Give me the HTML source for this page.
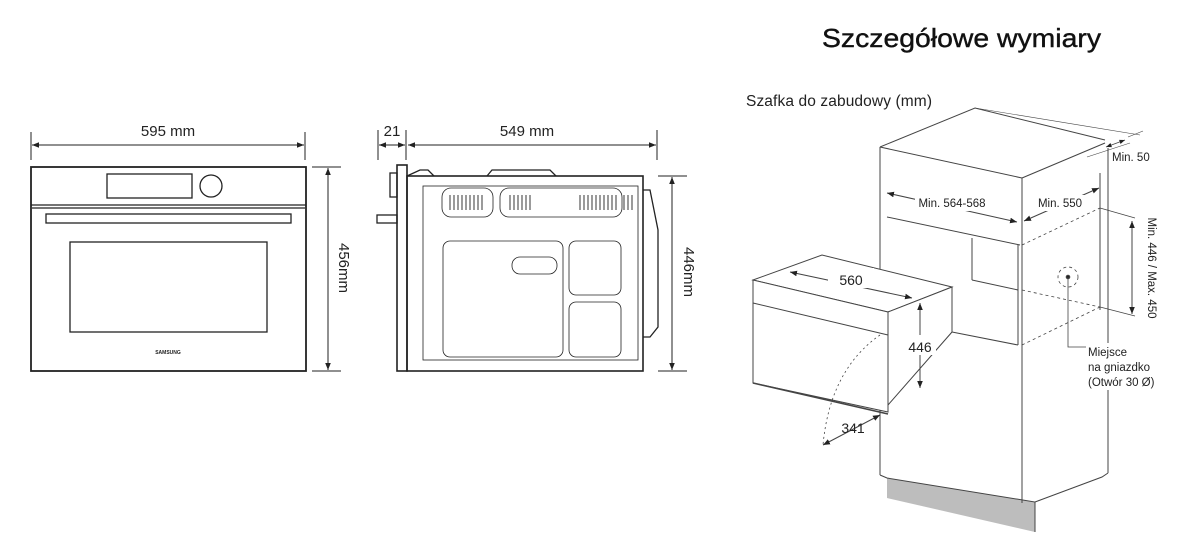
<!DOCTYPE html>
<html><head><meta charset="utf-8"><style>
html,body{margin:0;padding:0;background:#fff;}
svg{display:block;font-family:"Liberation Sans",sans-serif;}
</style></head><body>
<svg width="1190" height="556" viewBox="0 0 1190 556" xmlns="http://www.w3.org/2000/svg">
<defs>
<marker id="a" viewBox="0 0 10 10" refX="10" refY="5" markerWidth="7" markerHeight="7" orient="auto-start-reverse"><path d="M0,1 L10,5 L0,9 z" fill="#222"/></marker>
</defs>
<text x="822" y="47" font-size="26" fill="#111" stroke="#111" stroke-width="0.4" textLength="279" lengthAdjust="spacingAndGlyphs">Szczegółowe wymiary</text>
<text x="746" y="106" font-size="15.5" fill="#222" textLength="186">Szafka do zabudowy (mm)</text>

<!-- FRONT VIEW -->
<g stroke="#222" fill="none" stroke-width="1.3">
<rect x="31" y="167" width="275" height="204" stroke-width="1.8"/>
<line x1="31" y1="205" x2="306" y2="205"/>
<line x1="32" y1="208" x2="305" y2="208"/>
<rect x="107" y="174" width="85" height="24"/>
<circle cx="211" cy="186" r="11"/>
<rect x="46" y="214" width="245" height="9"/>
<rect x="70" y="242" width="197" height="90"/>
<line x1="31" y1="132" x2="31" y2="160" stroke-width="1"/>
<line x1="305" y1="132" x2="305" y2="160" stroke-width="1"/>
<line x1="32" y1="145" x2="304" y2="145" stroke-width="1" marker-start="url(#a)" marker-end="url(#a)"/>
<line x1="312" y1="167" x2="341" y2="167" stroke-width="1"/>
<line x1="312" y1="371" x2="341" y2="371" stroke-width="1"/>
<line x1="328" y1="168" x2="328" y2="370" stroke-width="1" marker-start="url(#a)" marker-end="url(#a)"/>
</g>
<text x="168" y="136" font-size="15" text-anchor="middle" fill="#222">595 mm</text>
<text x="168" y="354" font-size="5" text-anchor="middle" fill="#222" font-weight="bold">SAMSUNG</text>
<text transform="translate(339,268) rotate(90)" font-size="15" text-anchor="middle" fill="#222">456mm</text>

<!-- SIDE VIEW -->
<g stroke="#222" fill="none" stroke-width="1.3">
<rect x="407" y="176" width="236" height="195" stroke-width="1.6"/>
<rect x="423" y="186" width="215" height="174" stroke-width="0.8"/>
<rect x="397" y="165" width="10" height="206" stroke-width="1.6"/>
<rect x="390" y="173" width="7" height="24"/>
<rect x="377" y="215" width="20" height="8"/>
<path d="M407,176 L420,170 L428,170 L434,176"/>
<path d="M487,176 L492,170 L550,170 L556,176"/>
<path d="M643,190 L650,190 L658,230 L658,327 L650,337 L643,337"/>
<rect x="442" y="188" width="51" height="29" rx="9" stroke-width="0.8"/>
<rect x="500" y="188" width="122" height="29" rx="9" stroke-width="0.8"/>
<rect x="443" y="241" width="120" height="116" rx="7" stroke-width="0.8"/>
<rect x="512" y="257" width="45" height="17" rx="8" stroke-width="0.8"/>
<rect x="569" y="241" width="52" height="54" rx="7" stroke-width="0.8"/>
<rect x="569" y="302" width="52" height="55" rx="7" stroke-width="0.8"/>
<line x1="378" y1="130" x2="378" y2="160" stroke-width="1"/>
<line x1="406" y1="130" x2="406" y2="160" stroke-width="1"/>
<line x1="657" y1="130" x2="657" y2="160" stroke-width="1"/>
<line x1="379" y1="145" x2="405" y2="145" stroke-width="1" marker-start="url(#a)" marker-end="url(#a)"/>
<line x1="408" y1="145" x2="656" y2="145" stroke-width="1" marker-start="url(#a)" marker-end="url(#a)"/>
<line x1="658" y1="176" x2="687" y2="176" stroke-width="1"/>
<line x1="658" y1="371" x2="687" y2="371" stroke-width="1"/>
<line x1="672" y1="177" x2="672" y2="370" stroke-width="1" marker-start="url(#a)" marker-end="url(#a)"/>
</g>
<g stroke="#222" stroke-width="0.9">
<path d="M450,195v15M454,195v15M458,195v15M462,195v15M466,195v15M470,195v15M474,195v15M478,195v15M482,195v15"/>
<path d="M510,195v15M514,195v15M518,195v15M522,195v15M526,195v15M530,195v15"/>
<path d="M580,195v15M584,195v15M588,195v15M592,195v15M596,195v15M600,195v15M604,195v15M608,195v15M612,195v15M616,195v15M624,195v15M628,195v15M632,195v15"/>
</g>
<text x="392" y="136" font-size="15" text-anchor="middle" fill="#222">21</text>
<text x="527" y="136" font-size="15" text-anchor="middle" fill="#222">549 mm</text>
<text transform="translate(684,272) rotate(90)" font-size="15" text-anchor="middle" fill="#222">446mm</text>

<!-- CABINET -->
<polygon points="887,478 1035,502 1035,532 887,498" fill="#bdbdbd"/>
<g stroke="#444" fill="none" stroke-width="1">
<polyline points="880,147 975,108 1105,140"/>
<line x1="880" y1="147" x2="1022" y2="178"/>
<line x1="1022" y1="178" x2="1105" y2="143"/>
<line x1="880" y1="147" x2="880" y2="475"/>
<line x1="1022" y1="178" x2="1022" y2="503"/>
<line x1="1108" y1="148" x2="1108" y2="473"/>
<polyline points="880,475 887,478 1035,502 1035,532"/>
<polyline points="1035,502 1102,477 1108,473"/>
<line x1="975" y1="108" x2="1140" y2="135" stroke-width="0.6"/>
<line x1="1128" y1="137" x2="1143" y2="131" stroke-width="0.6"/>
<line x1="1087" y1="157" x2="1130" y2="143" stroke-width="0.6"/>
<line x1="1106" y1="147" x2="1125" y2="140" stroke-width="0.8" marker-start="url(#a)" marker-end="url(#a)"/>
<line x1="887" y1="217" x2="1020" y2="245"/>
<line x1="1018" y1="245" x2="1018" y2="345"/>
<line x1="972" y1="238" x2="972" y2="280"/>
<line x1="972" y1="280" x2="1018" y2="290"/>
<line x1="952" y1="332" x2="1018" y2="345"/>
<line x1="1100" y1="173" x2="1100" y2="310"/>
<line x1="887" y1="193" x2="1017" y2="222" marker-start="url(#a)" marker-end="url(#a)"/>
<line x1="1024" y1="221" x2="1099" y2="188" marker-start="url(#a)" marker-end="url(#a)"/>
<line x1="1100" y1="208" x2="1135" y2="218" stroke-width="0.7"/>
<line x1="1100" y1="307" x2="1135" y2="316" stroke-width="0.7"/>
<line x1="1132" y1="221" x2="1132" y2="314" marker-start="url(#a)" marker-end="url(#a)"/>
<g stroke-dasharray="3,3" stroke-width="0.8">
<line x1="1022" y1="245" x2="1100" y2="208"/>
<line x1="1022" y1="290" x2="1100" y2="307"/>
<line x1="1022" y1="345" x2="1100" y2="307"/>
<circle cx="1068" cy="277" r="10"/>
</g>
<circle cx="1068" cy="277" r="1.8" fill="#222"/>
<polyline points="1068,277 1068,347 1087,347" stroke-width="0.8"/>
<polygon points="753,280 822,255 952,287 888,312" fill="#fff"/>
<polygon points="753,280 888,312 888,412 753,383" fill="#fff"/>
<polygon points="888,312 952,287 952,332 888,405" fill="#fff"/>
<line x1="753" y1="303" x2="888" y2="335"/>
<line x1="753" y1="383" x2="888" y2="414" stroke-width="1.5"/>
<line x1="790" y1="272" x2="912" y2="298" marker-start="url(#a)" marker-end="url(#a)"/>
<line x1="920" y1="303" x2="920" y2="388" marker-start="url(#a)" marker-end="url(#a)"/>
<path d="M880,335 Q830,370 823,445" stroke-dasharray="2,3" stroke-width="0.8"/>
<line x1="823" y1="445" x2="880" y2="415" marker-start="url(#a)" marker-end="url(#a)"/>
</g>
<rect x="828" y="268" width="46" height="20" fill="#fff"/>
<text x="851" y="285" font-size="14" text-anchor="middle" fill="#222">560</text>
<rect x="902" y="335" width="34" height="20" fill="#fff"/>
<text x="920" y="352" font-size="14" text-anchor="middle" fill="#222">446</text>
<text x="853" y="433" font-size="14" text-anchor="middle" fill="#222">341</text>
<rect x="915" y="195" width="75" height="16" fill="#fff"/>
<text x="952" y="207" font-size="11.5" text-anchor="middle" fill="#222">Min. 564-568</text>
<rect x="1035" y="195" width="50" height="16" fill="#fff"/>
<text x="1060" y="207" font-size="11.5" text-anchor="middle" fill="#222">Min. 550</text>
<text x="1112" y="161" font-size="11.5" fill="#222">Min. 50</text>
<text transform="translate(1148,268) rotate(90)" font-size="11.5" text-anchor="middle" fill="#222">Min. 446 / Max. 450</text>
<rect x="1086" y="343" width="70" height="47" fill="#fff"/>
<text x="1088" y="356" font-size="11.5" fill="#222">Miejsce</text>
<text x="1088" y="371" font-size="11.5" fill="#222">na gniazdko</text>
<text x="1088" y="386" font-size="11.5" fill="#222">(Otwór 30 Ø)</text>
</svg>
</body></html>
